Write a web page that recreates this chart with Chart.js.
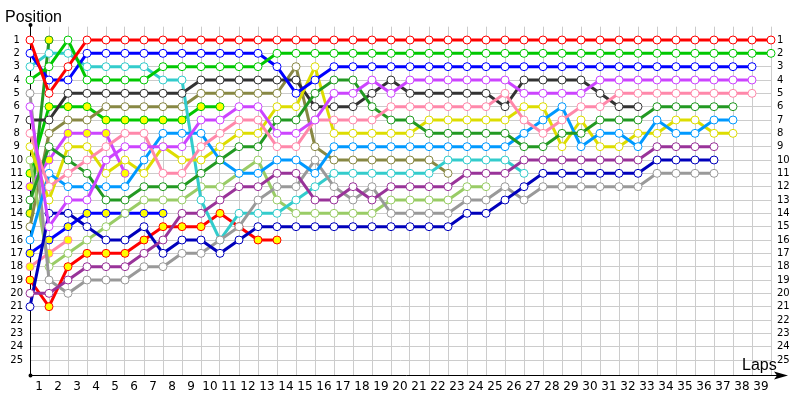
<!DOCTYPE html>
<html>
<head>
<meta charset="utf-8">
<script src="https://cdn.jsdelivr.net/npm/chart.js@4.4.0/dist/chart.umd.min.js"></script>
<style>
  html, body { margin: 0; padding: 0; background: #fff; }
</style>
</head>
<body>
<canvas id="lapChart" width="800" height="400"></canvas>
<script>
// positions per lap, index = lap (0 = grid)
const redA    = [1,5,3,1,1,1,1,1,1,1,1,1,1,1,1,1,1,1,1,1,1,1,1,1,1,1,1,1,1,1,1,1,1,1,1,1,1,1,1,1];
const greenA  = [4,3,1,4,4,4,4,3,3,3,3,3,3,2,2,2,2,2,2,2,2,2,2,2,2,2,2,2,2,2,2,2,2,2,2,2,2,2,2,2];
const blueA   = [2,4,4,2,2,2,2,2,2,2,2,2,2,3,5,4,3,3,3,3,3,3,3,3,3,3,3,3,3,3,3,3,3,3,3,3,3,3,3];
const violetA = [6,15,13,13,10,9,9,9,9,7,7,6,6,8,8,7,5,5,4,5,4,4,4,4,4,4,5,5,5,5,4,4,4,4,4,4,4,4,4];
const pinkA   = [8,12,11,10,9,8,8,11,11,9,8,7,7,9,9,7,7,7,7,6,6,6,6,6,6,5,7,8,7,6,6,5,5,5,5,5,5,5,5];
const dkGreenA= [13,9,10,11,13,13,12,12,12,11,10,9,9,7,7,5,4,4,6,7,7,8,8,8,8,8,9,9,8,8,7,7,7,6,6,6,6,6];
const ltBlueA = [16,11,12,12,12,12,10,8,8,8,10,11,11,10,10,11,9,9,9,9,9,9,9,9,9,9,8,7,6,9,8,8,9,7,8,8,7,7];
const yellowA = [9,13,9,9,11,10,11,9,10,10,9,8,8,6,6,3,8,8,8,8,8,7,7,7,7,7,6,6,9,7,9,9,8,8,7,7,8,8];
const purpleA = [20,20,19,18,18,18,17,16,14,14,13,12,12,11,11,13,13,12,13,12,12,12,12,11,11,11,10,10,10,10,10,10,10,9,9,9,9];
const navyA   = [21,14,14,15,16,16,15,17,16,16,17,16,15,15,15,15,15,15,15,15,15,15,15,14,14,13,12,11,11,11,11,11,11,10,10,10,10];
const grayA   = [5,19,20,19,19,19,18,18,17,17,16,15,13,12,12,10,12,13,12,14,14,14,14,13,13,12,13,12,12,12,12,12,12,11,11,11,11];
const blackA  = [7,7,5,5,5,5,5,5,5,4,4,4,4,4,4,6,6,6,5,4,5,5,5,5,5,6,4,4,4,4,5,6,6];
const cyanA   = [3,2,2,3,3,3,3,4,4,13,16,14,14,14,13,12,11,11,11,11,11,11,10,10,10,10,11];
const ltGreenA= [10,18,17,16,15,14,13,13,13,12,12,11,10,13,14,14,14,14,14,13,13,13,13,12,12];
const oliveA  = [15,8,7,7,6,6,6,6,6,5,5,5,5,5,3,9,10,10,10,10,10,10,11];
const redB    = [19,21,18,17,17,17,16,15,15,15,14,15,16,16];
const greenB  = [11,6,6,6,7,7,7,7,7,6,6];
const blueB   = [17,16,15,14,14,14,14,14];
const violetB = [12,10,8,8,8,11];
const pinkB   = [18,17,16];
const dkGreenB= [14,1];

const positionTicks = [1,2,3,4,5,6,7,8,9,10,11,12,13,14,15,16,17,18,19,20,21,22,23,24,25];

// [data, line colour, point fill]
const drivers = [
  [redA, '#ff0000', '#ffffff'],
  [greenA, '#00c800', '#ffffff'],
  [blueA, '#0000ff', '#ffffff'],
  [violetA, '#cc44ff', '#ffffff'],
  [pinkA, '#ff88aa', '#ffffff'],
  [dkGreenA, '#229922', '#ffffff'],
  [ltBlueA, '#0099ff', '#ffffff'],
  [yellowA, '#dddd00', '#ffffff'],
  [purpleA, '#993399', '#ffffff'],
  [navyA, '#0000bb', '#ffffff'],
  [grayA, '#999999', '#ffffff'],
  [blackA, '#333333', '#ffffff'],
  [cyanA, '#33cccc', '#ffffff'],
  [ltGreenA, '#99cc66', '#ffffff'],
  [oliveA, '#888844', '#ffffff'],
  [redB, '#ff0000', '#ffff00'],
  [greenB, '#00c800', '#ffff00'],
  [blueB, '#0000ff', '#ffff00'],
  [violetB, '#cc44ff', '#ffff00'],
  [pinkB, '#ff88aa', '#ffff00'],
  [dkGreenB, '#229922', '#ffff00']
];

const datasets = drivers.map(([pos, color, fill]) => ({
  data: pos.map((p, lap) => ({ x: lap, y: p })),
  borderColor: color,
  backgroundColor: fill,
  pointBackgroundColor: fill,
  pointBorderColor: color,
  pointBorderWidth: 1,
  pointRadius: 4,
  borderWidth: 3,
  tension: 0,
  clip: false
}));

// axis lines, arrow and titles
const decor = {
  id: 'decor',
  beforeDatasetsDraw(chart) {
    const { ctx, chartArea: a } = chart;
    ctx.save();
    ctx.strokeStyle = '#000';
    ctx.fillStyle = '#000';
    ctx.lineWidth = 1;
    ctx.beginPath();
    ctx.moveTo(a.left + 0.5, 25);
    ctx.lineTo(a.left + 0.5, a.bottom + 0.5);
    ctx.lineTo(782, a.bottom + 0.5);
    ctx.stroke();
    // arrow head
    ctx.beginPath();
    ctx.moveTo(788, a.bottom + 0.5);
    ctx.lineTo(774, a.bottom - 3.5);
    ctx.lineTo(777, a.bottom + 0.5);
    ctx.lineTo(774, a.bottom + 4.5);
    ctx.closePath();
    ctx.fill();
    ctx.beginPath();
    ctx.arc(a.left + 0.5, 25, 2, 0, Math.PI * 2);
    ctx.arc(a.left + 0.5, a.bottom + 0.5, 2, 0, Math.PI * 2);
    ctx.fill();
    ctx.restore();
  },
  afterDraw(chart) {
    const { ctx } = chart;
    ctx.save();
    ctx.fillStyle = '#000';
    ctx.font = '16px "Liberation Sans", Arial, sans-serif';
    ctx.textBaseline = 'alphabetic';
    ctx.textAlign = 'left';
    ctx.fillText('Position', 5, 22);
    ctx.fillText('Laps', 742, 370);
    ctx.restore();
  }
};

const tickFont = { family: '"DejaVu Sans", sans-serif', size: 10 };

new Chart(document.getElementById('lapChart'), {
  type: 'line',
  data: { datasets },
  plugins: [decor],
  options: {
    responsive: false,
    animation: false,
    devicePixelRatio: 1,
    layout: { padding: { top: 26.67, left: 0, right: 0, bottom: 0 } },
    plugins: { legend: { display: false }, tooltip: { enabled: false } },
    scales: {
      x: {
        type: 'linear',
        min: 0,
        max: 39,
        afterFit: s => { s.height = 25; },
        border: { display: false },
        grid: { color: c => c.tick.value === 0 ? 'rgba(0,0,0,0)' : '#cccccc', drawTicks: false },
        ticks: {
          stepSize: 1,
          autoSkip: false,
          maxRotation: 0,
          labelOffset: -10,
          padding: 5,
          color: '#000',
          font: { family: '"DejaVu Sans", sans-serif', size: 12 },
          callback: v => v === 0 ? '' : v
        }
      },
      y: {
        type: 'linear',
        position: 'left',
        reverse: true,
        min: 0,
        max: 26.125,
        afterFit: s => { s.width = 30; },
        afterBuildTicks: s => { s.ticks = positionTicks.map(v => ({ value: v })); },
        border: { display: false },
        grid: { color: '#cccccc', drawTicks: false },
        ticks: { autoSkip: false, crossAlign: 'center', padding: 7, color: '#000', font: tickFont }
      },
      y2: {
        type: 'linear',
        position: 'right',
        reverse: true,
        min: 0,
        max: 26.125,
        afterFit: s => { s.width = 29; },
        afterBuildTicks: s => { s.ticks = positionTicks.map(v => ({ value: v })); },
        border: { display: false },
        grid: { display: false, drawTicks: false },
        ticks: { autoSkip: false, crossAlign: 'near', padding: 6, color: '#000', font: tickFont }
      }
    }
  }
});
</script>
</body>
</html>
